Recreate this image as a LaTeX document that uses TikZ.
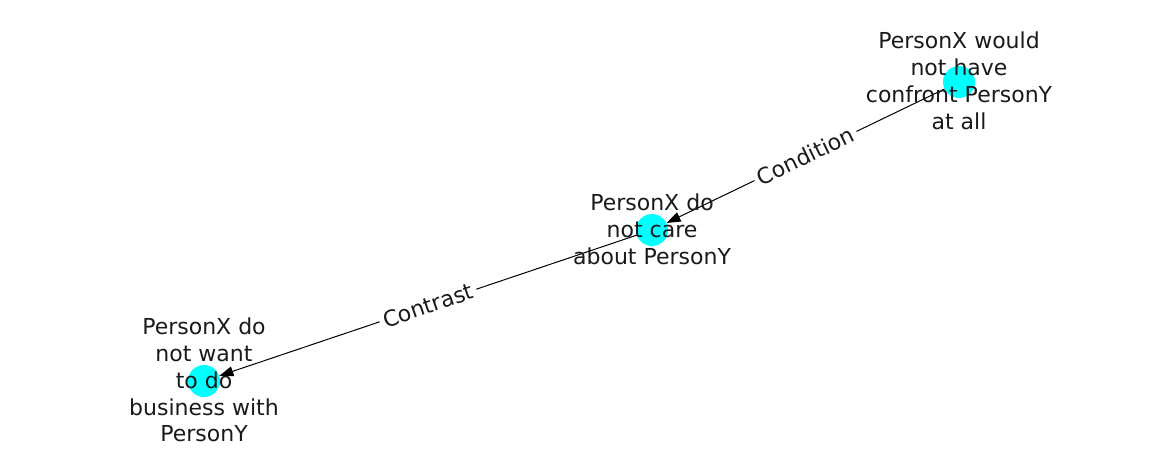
\documentclass[tikz,border=0pt]{standalone}
\usepackage{fontspec}
\setmainfont{DejaVu Sans}
\usepackage{tikz}
\usetikzlibrary{positioning, arrows.meta, shapes}
\definecolor{nodecyan}{RGB}{0,255,255}
\definecolor{inkgray}{RGB}{26,26,26}

\begin{document}
\begin{tikzpicture}
            [x=1pt, y=-1pt,
             vertex/.style={circle, fill=nodecyan, inner sep=0pt, minimum size=32pt},
             txt/.style={align=center, text=inkgray, font=\fontsize{22}{26.8}\selectfont},
             rel/.style={sloped, fill=white, inner sep=4pt, text=inkgray, font=\fontsize{22}{26.8}\selectfont},
             >={Triangle[length=14pt, width=10pt]}]
            \useasboundingbox (0,0) rectangle (1162,462);
            \node[vertex] (A) at (959,82) {};
            \node[vertex] (B) at (652,230) {};
            \node[vertex] (C) at (204,381) {};

            \path [->, line width=1pt] (A) edge node[rel] {Condition} (B);
            \path [->, line width=1pt] (B) edge node[rel] {Contrast} (C);

            \node[txt] (Atext) at (959,81) {PersonX would\\not have\\confront PersonY\\at all};
            \node[txt] (Btext) at (652,229) {PersonX do\\not care\\about PersonY};
            \node[txt] (Ctext) at (204,380) {PersonX do\\not want\\to do\\business with\\PersonY};
        \end{tikzpicture}
\end{document}
